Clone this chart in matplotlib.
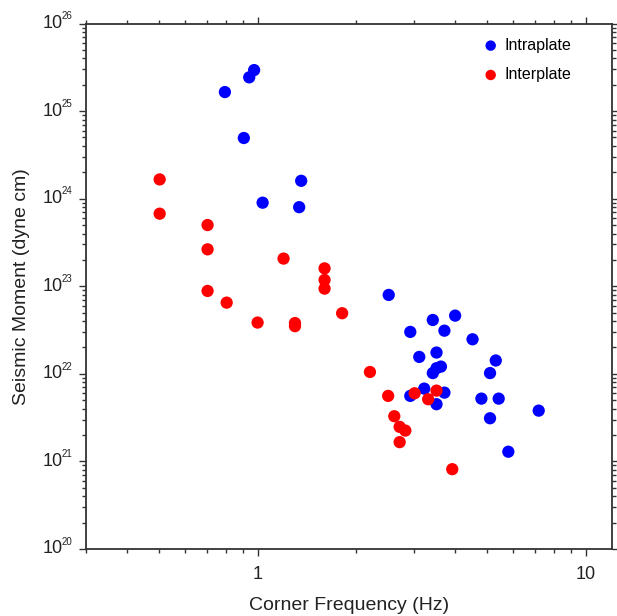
import matplotlib
matplotlib.use("Agg")
import matplotlib.pyplot as plt
from matplotlib.ticker import LogLocator, FixedLocator, FixedFormatter, NullFormatter
from matplotlib.transforms import blended_transform_factory

plt.rcParams['font.family'] = ['Liberation Sans', 'DejaVu Sans']

# corner frequency (Hz) and seismic moment (dyne cm)
intra_fc = [0.795, 0.943, 0.976, 0.908, 1.036, 1.358, 1.339, 2.51,
            3.42, 4.0, 2.92, 3.71, 4.52, 3.11, 3.51, 5.32, 3.42, 3.62,
            3.51, 5.11, 3.22, 2.92, 3.71, 3.51, 4.81, 5.43, 5.11, 7.19, 5.81]
intra_m0 = [1.65e25, 2.43e25, 2.94e25, 4.93e24, 9.0e23, 1.60e24, 8.0e23, 7.96e22,
            4.12e22, 4.62e22, 3.01e22, 3.11e22, 2.48e22, 1.56e22, 1.75e22, 1.42e22, 1.02e22, 1.21e22,
            1.16e22, 1.02e22, 6.78e21, 5.6e21, 6.1e21, 4.5e21, 5.21e21, 5.21e21, 3.11e21, 3.8e21, 1.29e21]

inter_fc = [0.503, 0.503, 0.704, 0.704, 0.704, 0.805, 1.20, 1.60, 1.60, 1.60,
            1.81, 1.0, 1.30, 1.30, 2.20, 2.50, 3.01, 3.31, 3.51, 2.61,
            2.71, 2.82, 2.71, 3.92]
inter_m0 = [1.66e24, 6.74e23, 5.0e23, 2.64e23, 8.84e22, 6.5e22, 2.07e23, 1.6e23, 1.18e23, 9.4e22,
            4.92e22, 3.85e22, 3.8e22, 3.5e22, 1.05e22, 5.6e21, 6.0e21, 5.13e21, 6.43e21, 3.28e21,
            2.48e21, 2.25e21, 1.66e21, 8.15e20]

xticks = [1, 10]
xticklabels = ['1', '10']
yexps = [20, 21, 22, 23, 24, 25, 26]

ink = '#222222'
fig = plt.figure(figsize=(6.17, 6.16), dpi=100)
ax = fig.add_axes([0.1394, 0.1088, 0.852, 0.853])

ax.scatter(intra_fc, intra_m0, s=78, c='#0000ff', edgecolors='none', label='Intraplate', zorder=3)
ax.scatter(inter_fc, inter_m0, s=78, c='#ff0000', edgecolors='none', label='Interplate', zorder=3)

ax.set_xscale('log')
ax.set_yscale('log')
ax.set_xlim(0.3, 12)
ax.set_ylim(1e20, 1e26)

ax.xaxis.set_major_locator(FixedLocator(xticks))
ax.xaxis.set_major_formatter(FixedFormatter(xticklabels))
ax.xaxis.set_minor_locator(LogLocator(base=10, subs=range(2, 10)))
ax.xaxis.set_minor_formatter(NullFormatter())

ax.yaxis.set_major_locator(FixedLocator([10.0 ** e for e in yexps]))
ax.yaxis.set_major_formatter(NullFormatter())
ax.yaxis.set_minor_locator(LogLocator(base=10, subs=range(2, 10), numticks=20))
ax.yaxis.set_minor_formatter(NullFormatter())

# y tick labels as "10" with a small exponent
tr = blended_transform_factory(ax.transAxes, ax.transData)
for e in yexps:
    ax.annotate('10', xy=(0, 10.0 ** e), xycoords=tr, xytext=(-17, 0),
                textcoords='offset points', ha='right', va='center',
                fontsize=13, color=ink, annotation_clip=False)
    ax.annotate(str(e), xy=(0, 10.0 ** e), xycoords=tr, xytext=(-17.3, 8.8),
                textcoords='offset points', ha='left', va='top',
                fontsize=7, color=ink, annotation_clip=False)

for s in ax.spines.values():
    s.set_linewidth(1.3)
    s.set_color('#333333')
ax.tick_params(which='both', direction='out', top=True, right=True, width=1.0,
               labelsize=13, colors='#333333', labelcolor=ink, pad=7)
ax.tick_params(which='major', length=5)
ax.tick_params(which='minor', length=3)

ax.set_xlabel('Corner Frequency (Hz)', fontsize=14, labelpad=10, color=ink)
ax.set_ylabel('Seismic Moment (dyne cm)', fontsize=14, labelpad=28, color=ink)

ax.legend(loc='upper right', frameon=False, fontsize=11.5, handletextpad=0.25,
          handlelength=1.2, labelspacing=0.9, borderaxespad=0.0,
          bbox_to_anchor=(0.935, 0.985), scatterpoints=1, markerscale=0.85)

fig.savefig('out.png', dpi=100)
